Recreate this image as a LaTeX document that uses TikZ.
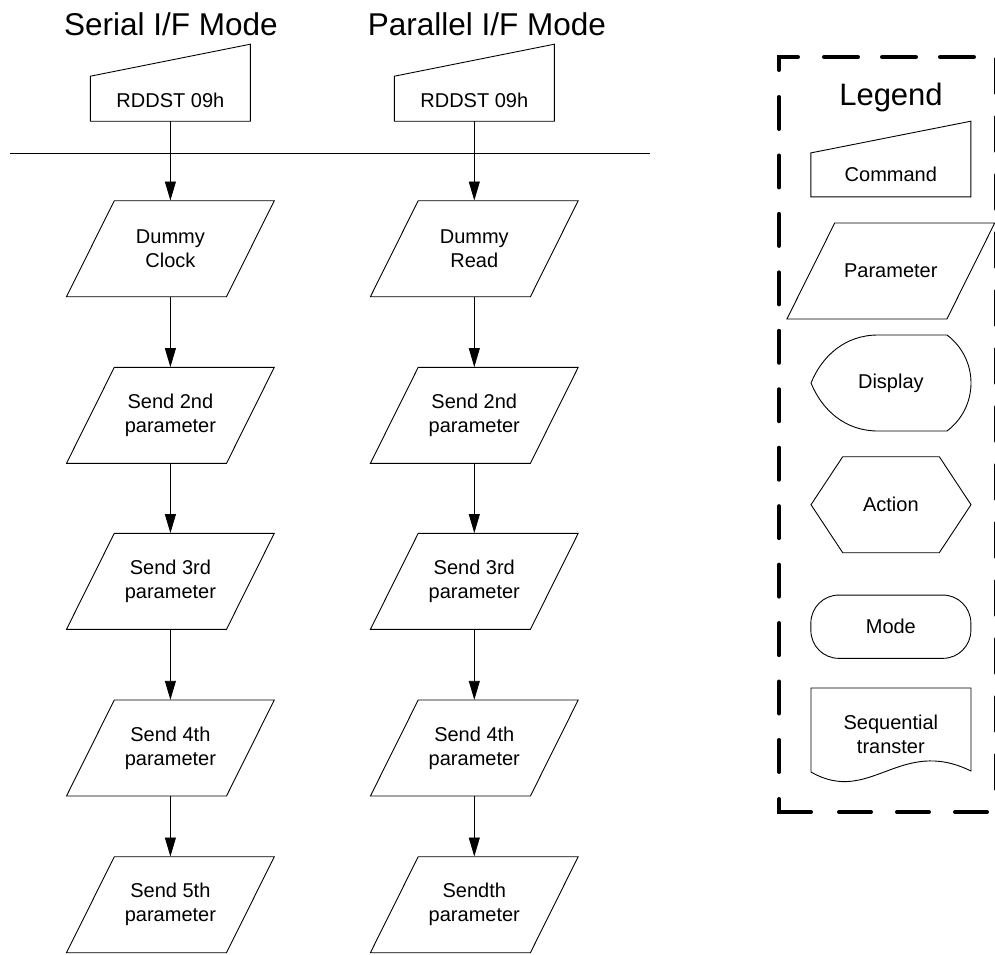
\documentclass[tikz,border=0pt]{standalone}
\usepackage{fontspec}
\setmainfont{Liberation Sans}
\usetikzlibrary{arrows.meta}
\newcommand{\paraoutline}[1]{\draw[outline] ([shift={(-56.1,-48)}]#1.center) -- ++(160,0) -- ++(-47.8,96) -- ++(-160,0) -- cycle;}
\newcommand{\cmdoutline}[1]{\draw[outline] ([xshift=-80pt]#1.south) -- ++(0,-45) -- ++(160,-32) -- ++(0,77) -- cycle;}
\begin{document}
\begin{tikzpicture}[x=1pt,y=-1pt,
  lbl/.style={font=\fontsize{20}{24}\selectfont, align=center, inner sep=0pt, minimum width=160pt},
  title/.style={font=\fontsize{31.5}{36}\selectfont, inner sep=0pt, anchor=base},
  outline/.style={draw=black, line width=0.9pt, line join=miter},
  arr/.style={draw=black, line width=0.9pt, -{Triangle[length=19pt,width=11pt]}},
  legendline/.style={draw=black, line width=4pt, line cap=round, line join=miter},
]
\useasboundingbox (0,0) rectangle (995,954);

% titles
\node[title] (t1) at (171,35) {Serial I/F Mode};
\node[title] (t2) at (487,35) {Parallel I/F Mode};

% commands
\node[lbl, minimum height=42pt] (sc) at (170.4,100) {RDDST 09h};
\node[lbl, minimum height=42pt] (pc) at (474.3,100) {RDDST 09h};
\cmdoutline{sc}
\cmdoutline{pc}

% separator
\coordinate (hl) at (10,153);
\coordinate (hr) at (650,153);
\draw[line width=0.9pt] (hl) -- (hr);

% serial column
\node[lbl, minimum height=96pt] (s1) at (170.4,248.7) {Dummy\\Clock};
\node[lbl, minimum height=96pt] (s2) at (170.4,415.3) {Send 2nd\\parameter};
\node[lbl, minimum height=96pt] (s3) at (170.4,581.3) {Send 3rd\\parameter};
\node[lbl, minimum height=96pt] (s4) at (170.4,748) {Send 4th\\parameter};
\node[lbl, minimum height=96pt] (s5) at (170.4,904.7) {Send 5th\\parameter};
\paraoutline{s1}\paraoutline{s2}\paraoutline{s3}\paraoutline{s4}\paraoutline{s5}

% parallel column
\node[lbl, minimum height=96pt] (p1) at (474.3,248.7) {Dummy\\Read};
\node[lbl, minimum height=96pt] (p2) at (474.3,415.3) {Send 2nd\\parameter};
\node[lbl, minimum height=96pt] (p3) at (474.3,581.3) {Send 3rd\\parameter};
\node[lbl, minimum height=96pt] (p4) at (474.3,748) {Send 4th\\parameter};
\node[lbl, minimum height=96pt] (p5) at (474.3,904.7) {Sendth\\parameter};
\paraoutline{p1}\paraoutline{p2}\paraoutline{p3}\paraoutline{p4}\paraoutline{p5}

% connectors
\draw[arr] (sc) -- (s1);
\draw[arr] (s1) -- (s2);
\draw[arr] (s2) -- (s3);
\draw[arr] (s3) -- (s4);
\draw[arr] (s4) -- (s5);
\draw[arr] (pc) -- (p1);
\draw[arr] (p1) -- (p2);
\draw[arr] (p2) -- (p3);
\draw[arr] (p3) -- (p4);
\draw[arr] (p4) -- (p5);

% legend frame
\draw[legendline] (798,57) -- (779,57) -- (779,70);
\draw[legendline, dash pattern=on 32pt off 26.45pt] (779,97) -- (779,772);
\draw[legendline] (779,799) -- (779,812) -- (811,812);
\draw[legendline, dash pattern=on 32pt off 26pt] (839,812) -- (987,812);
\draw[legendline, dash pattern=on 34pt off 24pt] (824,57) -- (975,57);
\draw[legendline, dash pattern=on 34pt off 24pt] (996,59) -- (996,812);

\node[title, font=\fontsize{31}{36}\selectfont] (lg) at (891,105) {Legend};

% legend items
\node[lbl, minimum height=44pt] (lcmd) at (890.85,174.7) {Command};
\draw[outline] ([xshift=-80pt]lcmd.south) -- ++(0,-44) -- ++(160,-31.7) -- ++(0,75.7) -- cycle;

\node[lbl, minimum height=96pt] (lpar) at (890.8,271) {Parameter};
\paraoutline{lpar}

\node[lbl, minimum height=96pt] (ldis) at (890.85,383) {Display};
\draw[outline] (811,383) .. controls (822,356) and (845,335) .. (878,335) -- (947,335)
  .. controls (962.1,346.3) and (971,364.1) .. (971,383)
  .. controls (971,401.9) and (962.1,419.7) .. (947,431) -- (878,431)
  .. controls (845,431) and (822,410) .. (811,383) -- cycle;

\node[lbl, minimum height=96pt] (lact) at (890.85,504.7) {Action};
\draw[outline] (811,504.7) -- (842.7,456.7) -- (939.3,456.7) -- (971,504.7) -- (939.3,552.7) -- (842.7,552.7) -- cycle;

\node[lbl, outline, rounded corners=28pt, minimum height=63.3pt] (lmode) at (890.85,626.7) {Mode};

\node[lbl, minimum height=60pt] (lseq) at (890.85,734.5) {Sequential\\transter};
\draw[outline] (811,688) -- (971,688) -- (971,771) .. controls (900,736) and (870,806) .. (811,772) -- cycle;

\end{tikzpicture}
\end{document}
